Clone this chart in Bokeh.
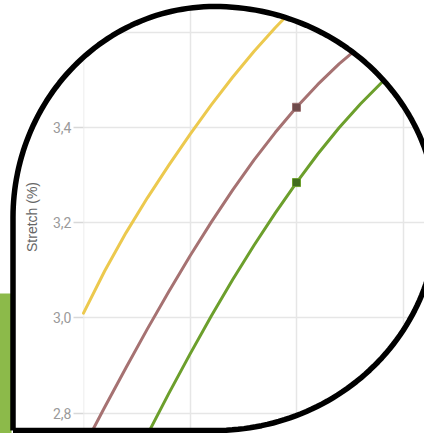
import numpy as np
from bokeh.plotting import figure
from bokeh.models import (Range1d, LinearAxis, FixedTicker, Grid,
                          CustomJSTickFormatter)
from bokeh.embed import file_html
from bokeh.resources import INLINE

# ---------------- data ----------------
y_label = "Stretch (%)"
y_ticks = [2.8, 3.0, 3.2, 3.4, 3.6]
x_ticks = [0, 1, 2, 3]

yellow_x = [0.0, 0.2, 0.4, 0.6, 0.8, 1.0, 1.2, 1.4, 1.6, 1.8, 2.0, 2.2]
yellow_y = [3.010, 3.099, 3.179, 3.252, 3.320, 3.385, 3.447, 3.505, 3.559, 3.609, 3.655, 3.698]

brown_x = [0.0, 0.2, 0.4, 0.6, 0.8, 1.0, 1.2, 1.4, 1.6, 1.8, 2.0, 2.2, 2.4, 2.6, 2.8, 3.0]
brown_y = [2.728, 2.813, 2.896, 2.977, 3.055, 3.130, 3.201, 3.268, 3.331, 3.389, 3.442,
           3.490, 3.533, 3.571, 3.605, 3.635]

green_x = [0.4, 0.6, 0.8, 1.0, 1.2, 1.4, 1.6, 1.8, 2.0, 2.2, 2.4, 2.6, 2.8, 3.0, 3.2]
green_y = [2.668, 2.755, 2.841, 2.924, 3.004, 3.080, 3.152, 3.220, 3.284, 3.344, 3.399,
           3.449, 3.494, 3.534, 3.570]

marker_x = [2.0]
brown_marker_y = [3.442]
green_marker_y = [3.284]

# ---------------- layout ----------------
W, H = 424, 433
px_per_x = 106.5
px_per_y = 95.3 / 0.2
x0 = -83.0 / px_per_x
x1 = x0 + W / px_per_x
y1 = 3.6 + 31.5 / px_per_y
y0 = y1 - H / px_per_y

p = figure(width=W, height=H, x_range=Range1d(x0, x1), y_range=Range1d(y0, y1),
           output_backend="svg", toolbar_location=None, min_border=0,
           x_axis_type=None, y_axis_type=None, outline_line_color=None,
           background_fill_color="white", border_fill_color="white")

# map picture pixel coords into data coords (for the decorative frame)
def dx(px):
    return x0 + np.asarray(px, dtype=float) * (x1 - x0) / W

def dy(py):
    return y1 - np.asarray(py, dtype=float) * (y1 - y0) / H

GRID = "#e6e6e6"
p.add_layout(Grid(dimension=0, ticker=FixedTicker(ticks=x_ticks),
                  grid_line_color=GRID, grid_line_width=1.5))
p.add_layout(Grid(dimension=1, ticker=FixedTicker(ticks=y_ticks),
                  grid_line_color=GRID, grid_line_width=1.5))

# blank area left of the chart frame (hides grid there)
p.quad(left=[dx(-50)], right=[0], bottom=[dy(500)], top=[dy(-50)],
       fill_color="white", line_color=None)

yaxis = LinearAxis(ticker=FixedTicker(ticks=y_ticks),
                   formatter=CustomJSTickFormatter(code="return tick.toFixed(1).replace('.', ',')"),
                   fixed_location=0, axis_label=y_label,
                   axis_line_color=None, major_tick_line_color="#d8d8d8",
                   major_tick_line_width=1.5,
                   major_tick_out=10, major_tick_in=0, minor_tick_line_color=None,
                   major_label_text_font="Roboto", major_label_text_font_size="14px",
                   major_label_text_color="#9a9a9a", major_label_standoff=2,
                   axis_label_text_font="Liberation Sans",
                   axis_label_text_font_style="normal",
                   axis_label_text_font_size="14px",
                   axis_label_text_color="#666666", axis_label_standoff=10)
p.add_layout(yaxis, "left")

p.line(yellow_x, yellow_y, line_color="#ecc94e", line_width=3, line_cap="round",
       line_join="round")
p.line(brown_x, brown_y, line_color="#a67272", line_width=3, line_cap="round",
       line_join="round")
p.line(green_x, green_y, line_color="#6c9f2c", line_width=3, line_cap="round",
       line_join="round")
p.scatter(marker_x, brown_marker_y, marker="square", size=8,
          fill_color="#6e4b4b", line_color="#9a7070", line_width=1)
p.scatter(marker_x, green_marker_y, marker="square", size=8,
          fill_color="#406c1c", line_color="#6c9f2c", line_width=1)

# ---------------- frame shape (decoration) ----------------
cx, cy = 214.0, 217.0
left_x, bottom_y = 12.5, 430.0
rxL, rxR, ryT, ryB = cx - left_x, 222.5, 211.0, bottom_y - cy

t1 = np.linspace(np.pi, 1.5 * np.pi, 60)
t2 = np.linspace(1.5 * np.pi, 2.0 * np.pi, 60)
t3 = np.linspace(0.0, 0.5 * np.pi, 60)
sx = np.concatenate([[left_x], cx + rxL * np.cos(t1), cx + rxR * np.cos(t2),
                     cx + rxR * np.cos(t3), [left_x]])
sy = np.concatenate([[bottom_y], cy + ryT * np.sin(t1), cy + ryT * np.sin(t2),
                     cy + ryB * np.sin(t3), [bottom_y]])

ox = [-40, W + 40, W + 40, -40]
oy = [-40, -40, H + 40, H + 40]
p.multi_polygons(xs=[[[list(dx(ox)), list(dx(sx))]]],
                 ys=[[[list(dy(oy)), list(dy(sy))]]],
                 fill_color="white", line_color=None, level="overlay")

# green side block
p.quad(left=[dx(-10)], right=[dx(11)], top=[dy(293)], bottom=[dy(450)],
       fill_color="#8cba4a", line_color=None, level="overlay")

p.line(dx(sx), dy(sy), line_color="black", line_width=5.5, line_join="round",
       level="overlay")

open("out.html", "w").write(file_html(p, INLINE))
